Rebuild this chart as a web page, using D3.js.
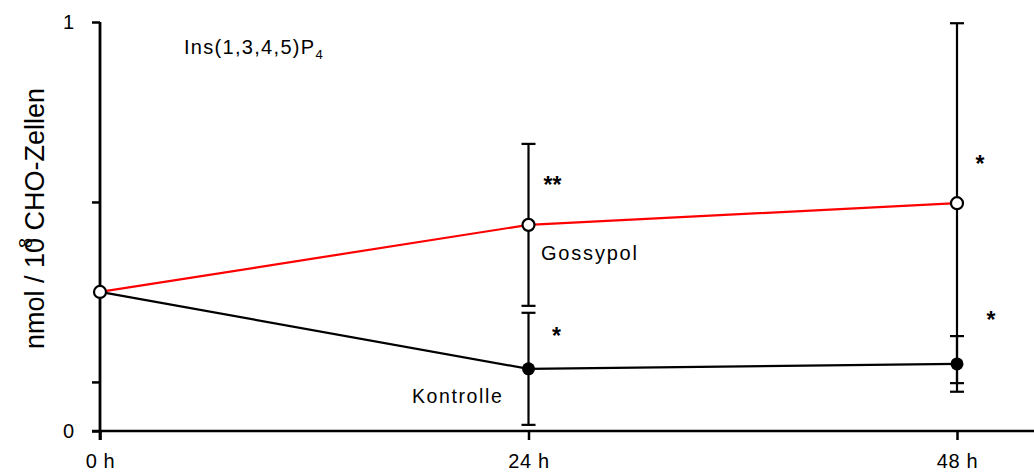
<!DOCTYPE html>
<html>
<head>
<meta charset="utf-8">
<script src="https://cdn.jsdelivr.net/npm/d3@7"></script>
<style>
  html, body { margin: 0; padding: 0; background: #fff; }
  svg { display: block; }
  text { font-family: "Liberation Sans", Arial, sans-serif; fill: #000; }
</style>
</head>
<body>
<svg id="chart" width="1034" height="472"></svg>
<script>
// Time points (hours) and their axis labels
const hours = [0, 24, 48];
const hourLabels = ["0 h", "24 h", "48 h"];

// Ins(1,3,4,5)P4 content, nmol / 10^8 CHO cells
const gossypolMean = [0.34, 0.504, 0.557];
const gossypolErr  = [0, 0.198, 0.44];
const kontrolleMean = [0.34, 0.152, 0.164];
const kontrolleErr  = [0, 0.137, 0.068];

// Y axis ticks and their labels
const yTickValues = [0, 0.12, 0.56, 1];
const yTickLabels = ["0", "", "", "1"];

// Significance marks: time point, value level, text
const sigHours  = [24, 24, 48, 48];
const sigLevels = [0.6, 0.23, 0.65, 0.27];
const sigTexts  = ["**", "*", "*", "*"];

const svg = d3.select("#chart");
const W = 1034;

const x = d3.scaleLinear().domain([0, 48]).range([100, 957]);
const y = d3.scaleLinear().domain([0, 1]).range([431, 22]);

// X axis
const xAxis = d3.axisBottom(x)
  .tickValues(hours)
  .tickSize(9)
  .tickFormat((d, i) => hourLabels[i]);
const gx = svg.append("g").attr("transform", `translate(0,${y(0)})`).call(xAxis);
gx.select(".domain").remove();
gx.append("line")
  .attr("x1", x(0) - 8).attr("x2", W)
  .attr("y1", 0).attr("y2", 0)
  .attr("stroke", "#000").attr("stroke-width", 2.5);
gx.selectAll(".tick line").attr("stroke", "#000").attr("stroke-width", 2.5);
gx.selectAll(".tick text")
  .attr("y", 23)
  .style("font-family", "Liberation Sans, Arial, sans-serif")
  .style("font-size", "20px")
  .style("letter-spacing", "0.6px")
  .attr("fill", "#000");

// Y axis
const yAxis = d3.axisLeft(y)
  .tickValues(yTickValues)
  .tickSize(8)
  .tickPadding(18)
  .tickFormat((d, i) => yTickLabels[i]);
const gy = svg.append("g").attr("transform", `translate(${x(0)},0)`).call(yAxis);
gy.select(".domain").remove();
gy.append("line")
  .attr("x1", 0).attr("x2", 0)
  .attr("y1", y(1)).attr("y2", y(0) + 9)
  .attr("stroke", "#000").attr("stroke-width", 2.8);
gy.selectAll(".tick line").attr("stroke", "#000").attr("stroke-width", 2.5);
gy.selectAll(".tick text")
  .style("font-family", "Liberation Sans, Arial, sans-serif")
  .style("font-size", "20px")
  .attr("fill", "#000");

// Y axis title with superscript exponent
const yTitle = svg.append("text")
  .attr("transform", `translate(44,${(y(0) + y(1)) / 2 - 8}) rotate(-90)`)
  .attr("text-anchor", "middle")
  .style("font-size", "27px");
yTitle.append("tspan").text("nmol / 10");
yTitle.append("tspan").attr("dy", -12).attr("dx", -10).style("font-size", "18px").text("8");
yTitle.append("tspan").attr("dy", 12).attr("dx", 0).text(" CHO-Zellen");

// Series lines
const line = d3.line().x((d, i) => x(hours[i])).y(d => y(d));
svg.append("path").datum(kontrolleMean)
  .attr("d", line).attr("fill", "none")
  .attr("stroke", "#000").attr("stroke-width", 2.2);
svg.append("path").datum(gossypolMean)
  .attr("d", line).attr("fill", "none")
  .attr("stroke", "#ff0000").attr("stroke-width", 2.2);

// Error bars
function errorBars(means, errs) {
  const g = svg.append("g").attr("stroke", "#000").attr("stroke-width", 2.2);
  means.forEach((m, i) => {
    if (!errs[i]) return;
    const cx = x(hours[i]);
    const lo = y(m - errs[i]), hi = y(m + errs[i]);
    g.append("line").attr("x1", cx).attr("x2", cx).attr("y1", lo).attr("y2", hi);
    [lo, hi].forEach(v => g.append("line")
      .attr("x1", cx - 7).attr("x2", cx + 7).attr("y1", v).attr("y2", v));
  });
}
errorBars(gossypolMean, gossypolErr);
errorBars(kontrolleMean, kontrolleErr);

// Markers: Kontrolle filled, Gossypol open (shared start point drawn open)
svg.append("g").selectAll("circle")
  .data(kontrolleMean.slice(1))
  .join("circle")
  .attr("cx", (d, i) => x(hours[i + 1]))
  .attr("cy", d => y(d))
  .attr("r", 6.5)
  .attr("fill", "#000");
svg.append("g").selectAll("circle")
  .data(gossypolMean)
  .join("circle")
  .attr("cx", (d, i) => x(hours[i]))
  .attr("cy", d => y(d))
  .attr("r", 6)
  .attr("fill", "#fff")
  .attr("stroke", "#000")
  .attr("stroke-width", 2.2);

// Significance marks
svg.append("g").selectAll("text")
  .data(sigTexts)
  .join("text")
  .attr("x", (d, i) => x(sigHours[i]) + (i === 3 ? 34 : i === 2 ? 23 : i === 1 ? 28 : 24))
  .attr("y", (d, i) => y(sigLevels[i]) + 7)
  .attr("text-anchor", "middle")
  .style("font-size", "23px")
  .style("font-weight", "bold")
  .text(d => d);

// Series labels
svg.append("text")
  .attr("x", 541).attr("y", 260)
  .style("font-size", "20px").style("letter-spacing", "1.8px")
  .text("Gossypol");
svg.append("text")
  .attr("x", 412).attr("y", 403)
  .style("font-size", "19.5px").style("letter-spacing", "1.6px")
  .text("Kontrolle");

// Panel title
const title = svg.append("text")
  .attr("x", 184).attr("y", 54)
  .style("font-size", "20px").style("letter-spacing", "1.3px");
title.append("tspan").text("Ins(1,3,4,5)P");
title.append("tspan").attr("dy", 5).style("font-size", "13px").text("4");
</script>
</body>
</html>
